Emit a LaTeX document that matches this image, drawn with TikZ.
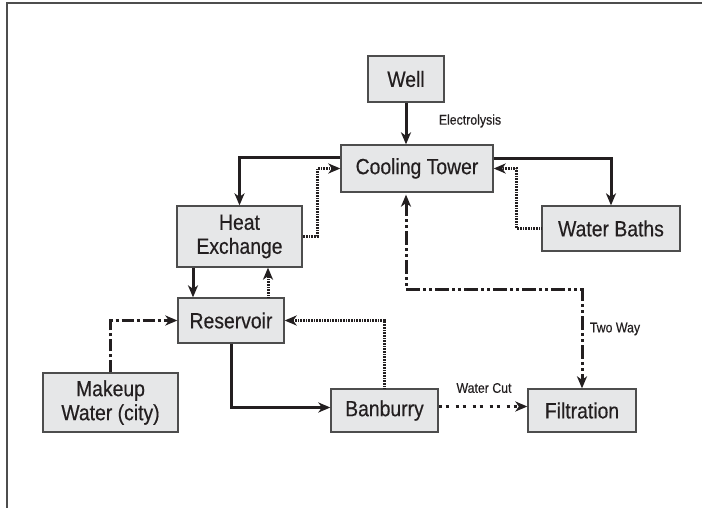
\documentclass[tikz,border=0pt]{standalone}
\usepackage{fontspec}
\setmainfont{Liberation Sans}[FakeStretch=0.88,FakeBold=0.4]
\usepackage{tikz}
\usetikzlibrary{arrows.meta,calc,positioning}
\definecolor{boxfill}{HTML}{E6E7E8}
\definecolor{boxline}{HTML}{4D4D4D}
\definecolor{ink}{HTML}{231F20}

\begin{document}
\begin{tikzpicture}[x=1pt,y=-1pt,>={Stealth[length=12pt,width=10pt,inset=3.5pt]},
  box/.style={draw=boxline,fill=boxfill,line width=1.3pt,text=ink,align=center,inner sep=0pt,font=\fontsize{22}{24}\selectfont},
  lbl/.style={text=ink,font=\fontsize{14}{16}\selectfont},
  flow/.style={->,draw=ink,line width=3pt},
  dotflow/.style={->,draw=ink,line width=3pt,dash pattern=on 0.8pt off 0.8pt},
  dashflow/.style={->,draw=ink,line width=3pt,dash pattern=on 12pt off 3pt on 3pt off 3pt},
  twoway/.style={<->,draw=ink,line width=3pt,dash pattern=on 14pt off 3pt on 3pt off 3pt on 3pt off 3pt},
  cutflow/.style={->,draw=ink,line width=3pt,dash pattern=on 3pt off 4pt on 3pt off 7pt}]
\useasboundingbox (0,0) rectangle (702,508);
\draw[boxline,line width=1.5pt] (7,508) -- (7,3) -- (702,3);
% boxes
\node[box,minimum width=76pt,minimum height=46pt] (well) at (406,79) {Well};
\node[box,minimum width=152pt,minimum height=47pt] (cool) at (417,168.5) {Cooling Tower};
\node[box,minimum width=138pt,minimum height=45pt] (baths) at (611,228.5) {Water Baths};
\node[box,minimum width=125pt,minimum height=61pt] (heat) at (239.5,236.5) {Heat\\Exchange};
\node[box,minimum width=106pt,minimum height=45pt] (res) at (231,320.5) {Reservoir};
\node[box,minimum width=135pt,minimum height=59pt] (makeup) at (110.5,402.5) {Makeup\\Water (city)};
\node[box,minimum width=107pt,minimum height=43pt] (banb) at (384.5,410.5) {Banburry};
\node[box,minimum width=108pt,minimum height=43pt] (filt) at (582,410.5) {Filtration};
% labels
\node[lbl] (electro) at (470,121) {Electrolysis};
\node[lbl] (twolbl) at (615,329) {Two Way};
\node[lbl] (cutlbl) at (484,388) {Water Cut};
% around the cooling tower
\draw[flow] (well.south -| 406,0) -- (cool.north -| 406,0);
\draw[flow] (cool.west |- 0,158) -| (heat.north);
\draw[dotflow] (heat.east) -- ++(15,0) |- (cool.west);
\draw[flow] (cool.east |- 0,159) -| (baths.north);
\draw[dotflow] (baths.west) -- ++(-25,0) |- (cool.east);
\draw[twoway,shorten <=2pt] (cool.south -| 406,0) -- (406,289) -| (filt.north);
% around the reservoir
\draw[flow] (heat.south -| 193,0) -- (res.north -| 193,0);
\draw[dotflow] (res.north -| 268,0) -- (heat.south -| 268,0);
\draw[dashflow] (makeup.north) |- (res.west);
\draw[dotflow] (banb.north) |- (res.east);
\draw[flow] (res.south) |- ([yshift=3pt]banb.west);
\draw[cutflow] ([yshift=4pt]banb.east) -- ([yshift=4pt]filt.west);
\end{tikzpicture}
\end{document}
